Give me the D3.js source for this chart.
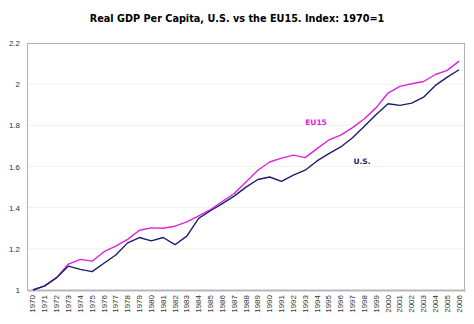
<!DOCTYPE html>
<html>
<head>
<meta charset="utf-8">
<script src="https://cdn.jsdelivr.net/npm/d3@7"></script>
<style>
  body { margin: 0; background: #fff; }
  svg { display: block; font-family: "DejaVu Sans", Verdana, sans-serif; }
</style>
</head>
<body>
<div id="chart"></div>
<script>
const years = d3.range(1970, 2007);
const usValues = [1.00, 1.02, 1.06, 1.116, 1.10, 1.089, 1.13, 1.17, 1.229, 1.255,
  1.239, 1.255, 1.22, 1.262, 1.348, 1.385, 1.42, 1.456, 1.50, 1.537,
  1.549, 1.528, 1.558, 1.582, 1.627, 1.663, 1.695, 1.74, 1.795, 1.853,
  1.905, 1.897, 1.908, 1.937, 1.994, 2.034, 2.07];
const euValues = [1.00, 1.02, 1.06, 1.126, 1.149, 1.14, 1.186, 1.213, 1.246, 1.29,
  1.302, 1.30, 1.31, 1.331, 1.36, 1.391, 1.43, 1.469, 1.525, 1.582,
  1.622, 1.641, 1.655, 1.643, 1.687, 1.729, 1.752, 1.789, 1.832, 1.886,
  1.957, 1.989, 2.002, 2.013, 2.047, 2.067, 2.112];
const yTicks = [1, 1.2, 1.4, 1.6, 1.8, 2, 2.2];

const width = 474, height = 324;
const margin = {top: 43, right: 9, bottom: 34, left: 27};

const series = [
  {name: "EU15", values: euValues, color: "#e020e0", label: [316, 122]},
  {name: "U.S.", values: usValues, color: "#1c1c6e", label: [362, 161]}
];

const svg = d3.select("#chart").append("svg")
    .attr("width", width)
    .attr("height", height);

const x = d3.scaleBand()
    .domain(years)
    .range([margin.left, width - margin.right]);

const y = d3.scaleLinear()
    .domain([1, 2.2])
    .range([height - margin.bottom, margin.top]);

const cx = d => x(d) + x.bandwidth() / 2;

svg.append("text")
    .attr("x", 237)
    .attr("y", 22)
    .attr("text-anchor", "middle")
    .attr("font-size", 9.7)
    .attr("font-weight", "bold")
    .text("Real GDP Per Capita, U.S. vs the EU15. Index: 1970=1");

// faint gridlines
svg.append("g")
  .selectAll("line")
  .data(yTicks.slice(1, -1))
  .join("line")
    .attr("x1", margin.left)
    .attr("x2", width - margin.right)
    .attr("y1", d => y(d))
    .attr("y2", d => y(d))
    .attr("stroke", "#f3f1e4")
    .attr("stroke-width", 1);

// plot frame
svg.append("rect")
    .attr("x", margin.left + 0.5)
    .attr("y", margin.top + 0.5)
    .attr("width", width - margin.left - margin.right - 1)
    .attr("height", height - margin.top - margin.bottom)
    .attr("fill", "none")
    .attr("stroke", "#b0b0b0");

const yAxis = g => g
    .attr("transform", `translate(${margin.left},0)`)
    .call(d3.axisLeft(y).tickValues(yTicks).tickSize(0).tickPadding(7).tickFormat(d3.format("~g")))
    .call(g => g.select(".domain").remove())
    .call(g => g.selectAll("text").attr("fill", "#333").attr("font-size", 8).attr("font-family", null));

const xAxis = g => g
    .attr("transform", `translate(0,${height - margin.bottom})`)
    .call(d3.axisBottom(x).tickSize(0).tickPadding(0))
    .call(g => g.select(".domain").attr("stroke", "#b8b8b8").attr("stroke-width", 2))
    .call(g => g.selectAll("text")
        .attr("fill", "#333")
        .attr("font-size", 8)
        .attr("font-family", null)
        .attr("text-anchor", "end")
        .attr("dy", "0.32em")
        .attr("transform", "translate(0,5) rotate(-90)"));

svg.append("g").call(yAxis);
svg.append("g").call(xAxis);

const line = d3.line()
    .x((d, i) => cx(years[i]))
    .y(d => y(d));

svg.append("g")
    .attr("fill", "none")
    .attr("stroke-width", 1.4)
    .attr("stroke-linejoin", "round")
  .selectAll("path")
  .data(series)
  .join("path")
    .attr("stroke", d => d.color)
    .attr("d", d => line(d.values));

svg.append("g")
  .selectAll("text")
  .data(series)
  .join("text")
    .attr("x", d => d.label[0])
    .attr("y", d => d.label[1])
    .attr("text-anchor", "middle")
    .attr("dy", "0.35em")
    .attr("font-size", 7.5)
    .attr("font-weight", "bold")
    .attr("fill", d => d.color)
    .text(d => d.name);
</script>
</body>
</html>
